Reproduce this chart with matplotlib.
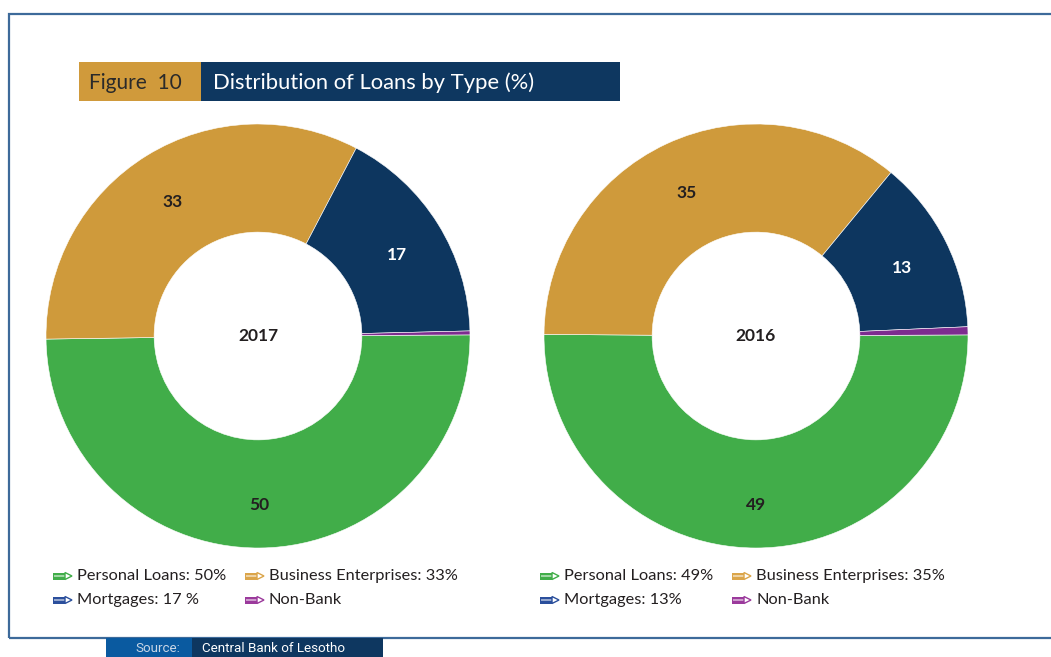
import matplotlib
matplotlib.use("Agg")
import numpy as np
import matplotlib.pyplot as plt
from matplotlib.patches import Rectangle, Polygon

# Loan shares by type (%)
categories = ["Personal Loans", "Business Enterprises", "Mortgages", "Non-Bank"]
years = ["2017", "2016"]
shares_2017 = [50, 33, 17, 0.3]
shares_2016 = [49, 35, 13, 0.6]
legend_2017 = ["Personal Loans: 50%", "Business Enterprises: 33%", "Mortgages: 17 %", "Non-Bank"]
legend_2016 = ["Personal Loans: 49%", "Business Enterprises: 35%", "Mortgages: 13%", "Non-Bank"]

colors = ["#41ad49", "#cf9a3b", "#0d365f", "#7d2c8f"]
legend_colors = ["#41ad49", "#dba54a", "#2b4f9c", "#9b3a9c"]
text_colors = ["#231f20", "#231f20", "white", "#231f20"]

W, H = 1051, 657
fig = plt.figure(figsize=(W / 100, H / 100), dpi=100)
fig.patch.set_facecolor("white")

FONT = ["Lato", "DejaVu Sans"]


def fx(x):
    return x / W


def fy(y):
    return 1 - y / H


def prect(x0, y0, x1, y1, **kw):
    fig.patches.append(Rectangle((fx(x0), fy(y1)), fx(x1 - x0), (y1 - y0) / H,
                                 transform=fig.transFigure, **kw))


# Outer frame
fig.patches.append(Rectangle((fx(9), fy(638)), fx(1100 - 9), (638 - 14) / H,
                             transform=fig.transFigure, fill=False,
                             edgecolor="#3d6a9a", linewidth=1.6, zorder=1))

# Title banner
prect(79, 62, 201, 101, facecolor="#d09a3b", edgecolor="none")
prect(201, 62, 620, 101, facecolor="#0e3760", edgecolor="none")
fig.text(fx(89), fy(83), "Figure  10", fontsize=15, color="#2a2a2a",
         va="center", ha="left", family=FONT)
fig.text(fx(213), fy(83), "Distribution of Loans by Type (%)", fontsize=15.8,
         color="white", va="center", ha="left", family=FONT)

# Source banner
prect(106, 638, 192, 657, facecolor="#0a5aa0", edgecolor="none")
prect(192, 638, 383, 657, facecolor="#0e3760", edgecolor="none")
NARROW = ["Roboto", "DejaVu Sans"]
fig.text(fx(158), fy(648.5), "Source:", fontsize=9.6, color="#c9d6e6",
         va="center", ha="center", family=NARROW)
fig.text(fx(202), fy(648.5), "Central Bank of Lesotho", fontsize=9.6,
         color="white", va="center", ha="left", family=NARROW)

START = 0.3


def donut(cx, cy, r, values, year):
    ax = fig.add_axes([fx(cx - r), fy(cy + r), fx(2 * r), 2 * r / H])
    ax.pie(values, colors=colors, startangle=START, counterclock=False,
           radius=1.0, wedgeprops=dict(width=0.51, edgecolor="white",
                                       linewidth=0.4))
    ax.set_xlim(-1, 1)
    ax.set_ylim(-1, 1)
    ax.set_aspect("equal")
    ax.axis("off")
    total = sum(values)
    ang = START
    for v, tc in zip(values, text_colors):
        span = 360 * v / total
        mid = np.deg2rad(ang - span / 2)
        ang -= span
        if v >= 5:
            ax.text(0.77 * np.cos(mid), 0.77 * np.sin(mid) - 0.025, f"{v:g}",
                    ha="center", va="center", fontsize=12.5, color=tc,
                    fontweight="bold", family=FONT)
    ax.text(0, 0, year, ha="center", va="center", fontsize=12.5,
            color="#231f20", fontweight="bold", family=FONT)


donut(258, 336, 212, shares_2017, years[0])
donut(756, 336, 212, shares_2016, years[1])


def pencil(x, y, color):
    # body
    prect(x, y - 3.5, x + 12, y + 3.5, facecolor=color, edgecolor="none")
    prect(x + 1, y - 0.6, x + 12, y + 0.6, facecolor="white", edgecolor="none",
          alpha=0.5)
    # tip
    fig.patches.append(Polygon([(fx(x + 12), fy(y - 3.5)), (fx(x + 19), fy(y)),
                                (fx(x + 12), fy(y + 3.5))], closed=True,
                               transform=fig.transFigure, facecolor="white",
                               edgecolor=color, linewidth=1.0))


def legend(x_cols, labels):
    rows = [576, 600]
    for i, (lab, col) in enumerate(zip(labels, legend_colors)):
        x = x_cols[i % 2]
        y = rows[i // 2]
        pencil(x, y, col)
        fig.text(fx(x + 24), fy(y), lab, fontsize=11.8, color="#231f20",
                 va="center", ha="left", family=FONT)


legend([53, 245], legend_2017)
legend([540, 732], legend_2016)

fig.savefig("out.png", dpi=100, facecolor="white")
